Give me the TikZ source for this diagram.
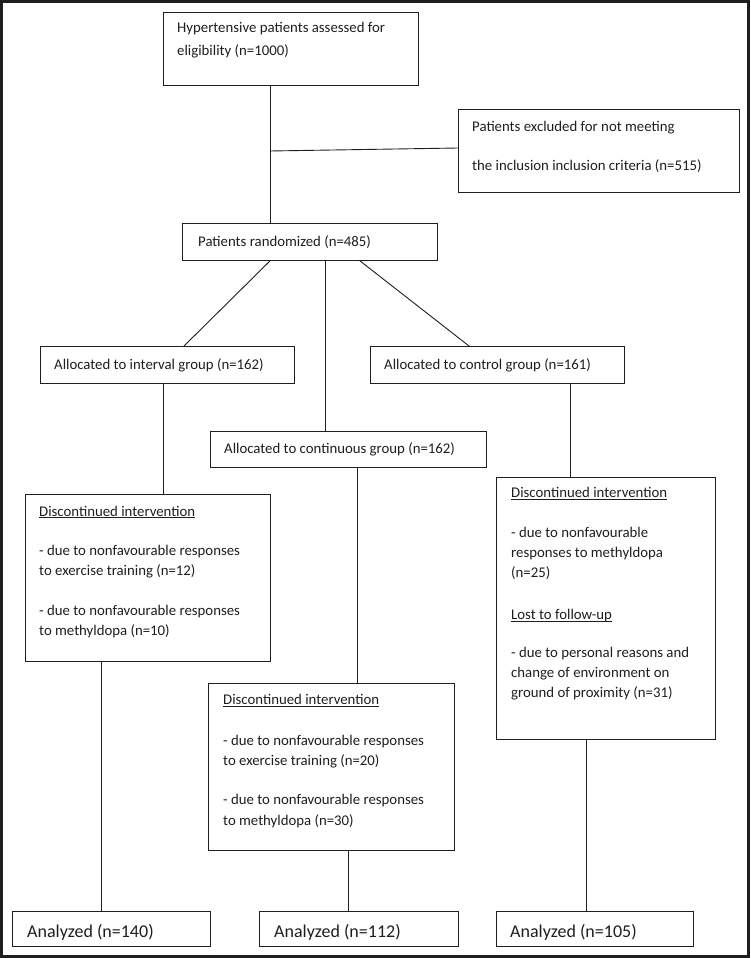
\documentclass[tikz,border=0pt]{standalone}
\usepackage{fontspec}
\setmainfont{Carlito}
\usetikzlibrary{calc}
\definecolor{ink}{HTML}{1E1E1E}
\newcommand{\ulx}[1]{\underline{\smash{#1}}}
\begin{document}
\begin{tikzpicture}[x=1pt,y=-1pt,
  box/.style={draw=ink, line width=0.9pt, inner sep=0pt, anchor=north west},
  txt/.style={anchor=base west, inner sep=0pt, text=ink, font=\fontsize{14.8}{18}\selectfont},
  big/.style={anchor=base west, inner sep=0pt, text=ink, font=\fontsize{18}{22}\selectfont},
  link/.style={draw=ink, line width=0.9pt}]
\useasboundingbox (0,0) rectangle (750,958);
\draw[ink, line width=3.2pt] (1.6,1.5) rectangle (748.4,956.5);
% boxes
\node[box, minimum width=255pt, minimum height=73pt] (b1) at (163,12) {};
\node[box, minimum width=281pt, minimum height=83pt] (excl) at (458,109) {};
\node[box, minimum width=255pt, minimum height=37pt] (rand) at (182,223) {};
\node[box, minimum width=254pt, minimum height=37pt] (intv) at (40,346) {};
\node[box, minimum width=254pt, minimum height=37pt] (ctrl) at (370,346) {};
\node[box, minimum width=276pt, minimum height=36pt] (cont) at (210,431) {};
\node[box, minimum width=245pt, minimum height=167pt] (d1) at (25,494) {};
\node[box, minimum width=246pt, minimum height=167pt] (d2) at (208,683) {};
\node[box, minimum width=219pt, minimum height=262pt] (d3) at (496,477) {};
\node[box, minimum width=198pt, minimum height=35pt] (a1) at (12,911) {};
\node[box, minimum width=199pt, minimum height=35pt] (a2) at (259,911) {};
\node[box, minimum width=197pt, minimum height=35pt] (a3) at (496,911) {};
% texts
\node[txt] (t1a) at (177,33) {Hypertensive patients assessed for};
\node[txt] (t1b) at (177,55.5) {eligibility (n=1000)};
\node[txt] (tea) at (472,131) {Patients excluded for not meeting};
\node[txt] (teb) at (472,170) {the inclusion inclusion criteria (n=515)};
\node[txt] (tr) at (198,246) {Patients randomized (n=485)};
\node[txt] (ti) at (54,369) {Allocated to interval group (n=162)};
\node[txt] (tc) at (384,369) {Allocated to control group (n=161)};
\node[txt] (tn) at (224,453.5) {Allocated to continuous group (n=162)};
% d1
\node[txt] (d1a) at (39,516) {\ulx{Discontinued intervention}};
\node[txt] (d1b) at (39,555) {- due to nonfavourable responses};
\node[txt] (d1c) at (39,575.5) {to exercise training (n=12)};
\node[txt] (d1d) at (39,615) {- due to nonfavourable responses};
\node[txt] (d1e) at (39,635.5) {to methyldopa (n=10)};
% d2
\node[txt] (d2a) at (223,704.5) {\ulx{Discontinued intervention}};
\node[txt] (d2b) at (223,745) {- due to nonfavourable responses};
\node[txt] (d2c) at (223,765) {to exercise training (n=20)};
\node[txt] (d2d) at (223,804) {- due to nonfavourable responses};
\node[txt] (d2e) at (223,825) {to methyldopa (n=30)};
% d3
\node[txt] (d3a) at (511,497.5) {\ulx{Discontinued intervention}};
\node[txt] (d3b) at (511,537) {- due to nonfavourable};
\node[txt] (d3c) at (511,557) {responses to methyldopa};
\node[txt] (d3d) at (511,577) {(n=25)};
\node[txt] (d3e) at (511,619.5) {\ulx{Lost to follow-up}};
\node[txt] (d3f) at (511,657) {- due to personal reasons and};
\node[txt] (d3g) at (511,677) {change of environment on};
\node[txt] (d3h) at (511,697.5) {ground of proximity (n=31)};
% analyzed
\node[big] (ta1) at (27,937.5) {Analyzed (n=140)};
\node[big] (ta2) at (274,937.5) {Analyzed (n=112)};
\node[big] (ta3) at (510,937.5) {Analyzed (n=105)};
% connectors
\coordinate (j1) at (270,151);
\draw[link] ($(b1.south west)+(107,0)$) -- ($(rand.north west)+(88,0)$);
\draw[link] (j1) -- ($(excl.north west)+(0,39)$);
\draw[link] ($(rand.south west)+(88,0)$) -- ($(intv.north west)+(144,0)$);
\draw[link] ($(rand.south west)+(143,0)$) -- ($(cont.north west)+(115,0)$);
\draw[link] ($(rand.south west)+(178,0)$) -- ($(ctrl.north west)+(99,0)$);
\draw[link] ($(intv.south west)+(123,0)$) -- ($(d1.north west)+(138,0)$);
\draw[link] ($(cont.south west)+(147,0)$) -- ($(d2.north west)+(149,0)$);
\draw[link] ($(ctrl.south west)+(200,0)$) -- ($(d3.north west)+(74,0)$);
\draw[link] ($(d1.south west)+(76,0)$) -- ($(a1.north west)+(89,0)$);
\draw[link] ($(d2.south west)+(140,0)$) -- ($(a2.north west)+(89,0)$);
\draw[link] ($(d3.south west)+(90,0)$) -- ($(a3.north west)+(90,0)$);
\end{tikzpicture}
\end{document}
